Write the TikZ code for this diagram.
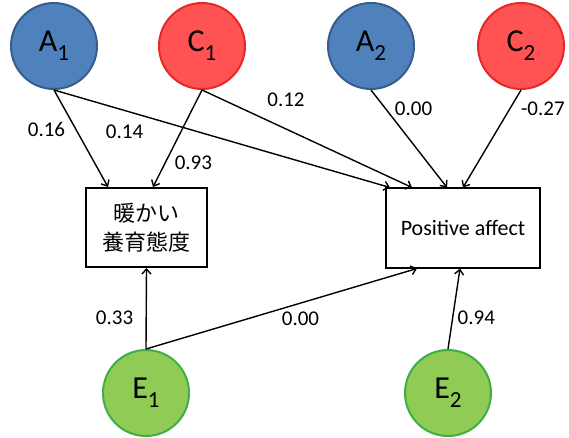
\documentclass[tikz,border=0pt]{standalone}
\usepackage{fontspec}
\setmainfont{Carlito}
\newfontfamily\jpfont{Noto Sans CJK JP}
\usepackage{tikz}
\usetikzlibrary{arrows.meta}
\definecolor{blueA}{HTML}{4F81BD}
\definecolor{blueAline}{HTML}{385D8A}
\definecolor{redC}{HTML}{FF5353}
\definecolor{redCline}{HTML}{E62828}
\definecolor{greenE}{HTML}{8FCB55}
\definecolor{greenEline}{HTML}{3FAF45}
\newcommand{\lat}[2]{#1\raisebox{-0.28em}{\fontsize{23}{23}\selectfont #2}}

\begin{document}
\begin{tikzpicture}[x=1pt,y=-1pt,line width=1.4pt,>={Straight Barb[length=5pt,width=9pt]},
        font=\fontsize{21}{24}\selectfont]
        \tikzstyle{latent}=[circle,minimum size=86pt,inner sep=0pt,line width=2pt,
                font=\fontsize{32}{32}\selectfont]
        \tikzstyle{acomp}=[latent,draw=blueAline,fill=blueA]
        \tikzstyle{ccomp}=[latent,draw=redCline,fill=redC]
        \tikzstyle{ecomp}=[latent,draw=greenEline,fill=greenE]
        \tikzstyle{observed}=[draw,line width=2pt,minimum height=79pt,inner sep=0pt,align=center]

        \useasboundingbox[fill=white] (0,0) rectangle (569,438);

        \node[acomp]  (A1) at (54,46)   {\lat{A}{1}};
        \node[ccomp]  (C1) at (202,46)  {\lat{C}{1}};
        \node[acomp]  (A2) at (371,46)  {\lat{A}{2}};
        \node[ccomp]  (C2) at (521,46)  {\lat{C}{2}};
        \node[ecomp]  (E1) at (146,393) {\lat{E}{1}};
        \node[ecomp]  (E2) at (448,393) {\lat{E}{2}};
        \node[observed,minimum width=121pt,font=\fontsize{22}{29}\jpfont] (P1) at (146.5,227.5)
                {暖かい\\養育態度};
        \node[observed,minimum width=154pt,font=\fontsize{22}{26}\selectfont] (P2) at (463,228)
                {Positive affect};

        \path[->]
                  (A1.south) edge node [pos=.41,left=7pt]    {0.16} ([xshift=-38.5pt]P1.north)
                             edge node [pos=.21,below=10pt]  {0.14} ([xshift=-73pt]P2.north)
                  (C1.south) edge node [pos=.75,right=5.5pt] {0.93} ([xshift=6.5pt]P1.north)
                             edge node [pos=.4,above=18.5pt] {0.12} ([xshift=-51pt]P2.north)
                  (A2.south) edge node [pos=.19,right=5.5pt] {0.00} ([xshift=-16pt]P2.north)
                  (C2.south) edge node [pos=.19,right=7pt]   {-0.27} (P2.north)
                  (E1.north) edge node [pos=.39,left=9pt]    {0.33} (P1.south)
                             edge node [pos=.57,below=5pt]   {0.00} ([xshift=-46pt]P2.south)
                  (E2.north) edge node [pos=.39,right=1pt]   {0.94} ([xshift=-3pt]P2.south);
\end{tikzpicture}
\end{document}
